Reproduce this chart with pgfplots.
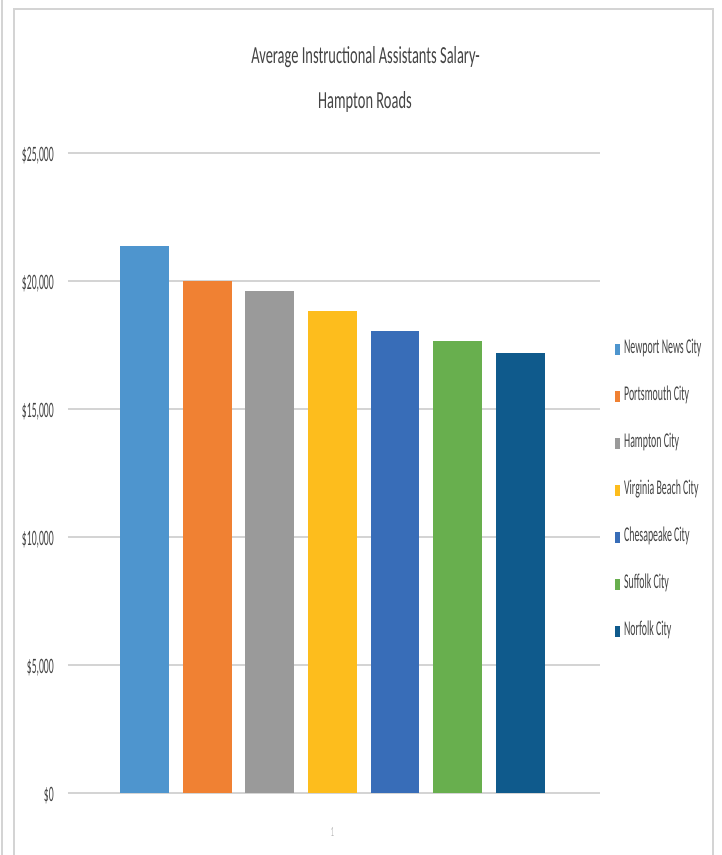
\documentclass[border=0pt]{standalone}
\usepackage{fontspec}
\setmainfont{Carlito}[FakeStretch=0.59]
\newfontfamily\tickfont{Carlito}[FakeStretch=0.44]
\newfontfamily\legfont{Carlito}[FakeStretch=0.47]
\usepackage{pgfplots}
\pgfplotsset{compat=1.18}
\definecolor{c1}{HTML}{4E95CE}
\definecolor{c2}{HTML}{F08133}
\definecolor{c3}{HTML}{9A9A9A}
\definecolor{c4}{HTML}{FDBD1D}
\definecolor{c5}{HTML}{386DB8}
\definecolor{c6}{HTML}{68AF4E}
\definecolor{c7}{HTML}{0F5A8C}
\definecolor{txt}{HTML}{444444}
\definecolor{gridc}{HTML}{D4D4D4}
\begin{document}
\begin{tikzpicture}[x=1pt,y=1pt]
\fill[white] (0,0) rectangle (721,855);
\draw[gridc, line width=1.2pt] (14,-5) -- (14,846) -- (713,846) -- (713,-5);
\draw[gridc, line width=1.2pt] (2,-5) -- (2,860);
\node[anchor=base, text=txt, inner sep=0pt, font=\fontsize{24.5}{29}\selectfont] at (365.5,791) {Average Instructional Assistants Salary-};
\node[anchor=base, text=txt, inner sep=0pt, font=\fontsize{24.5}{29}\selectfont] at (365,746) {Hampton Roads};
\begin{axis}[
  at={(68pt,62pt)}, anchor=south west,
  scale only axis, width=532pt, height=640pt,
  xmin=-1.224, xmax=7.275, ymin=0, ymax=25000,
  ybar, bar shift=0pt, bar width=0.78,
  axis line style={draw=none},
  tick style={draw=none},
  scaled y ticks=false,
  ymajorgrids, grid style={gridc, line width=2.2pt},
  ytick={0,5000,10000,15000,20000,25000},
  yticklabels={{\$0},{\$5,000},{\$10,000},{\$15,000},{\$20,000},{\$25,000}},
  yticklabel style={anchor=east, inner sep=0pt, xshift=-14pt, yshift=-3pt, text=txt, font=\tickfont\fontsize{22}{26}\selectfont},
  xtick={3}, xticklabels={1},
  xticklabel style={anchor=north, inner sep=0pt, yshift=-30pt, text=gray!55, font=\tickfont\fontsize{14}{16}\selectfont},
  legend image code/.code={\fill[#1] (0pt,-5.5pt) rectangle (5pt,5.5pt);},
  legend style={at={(1.028,0.472)}, anchor=west, draw=none, fill=none,
    inner sep=0pt, row sep=34pt,
    nodes={inner sep=0pt, text height=10pt, text depth=3pt, text=txt, font=\legfont\fontsize{21}{24}\selectfont},
    /tikz/every odd column/.append style={column sep=4pt}},
  legend cell align=left,
]
\addplot[fill=c1, draw=none] coordinates {(0,21370)};
\addplot[fill=c2, draw=none] coordinates {(1,19990)};
\addplot[fill=c3, draw=none] coordinates {(2,19610)};
\addplot[fill=c4, draw=none] coordinates {(3,18840)};
\addplot[fill=c5, draw=none] coordinates {(4,18040)};
\addplot[fill=c6, draw=none] coordinates {(5,17650)};
\addplot[fill=c7, draw=none] coordinates {(6,17170)};
\legend{Newport News City, Portsmouth City, Hampton City, Virginia Beach City, Chesapeake City, Suffolk City, Norfolk City}
\end{axis}
\pgfresetboundingbox
\path[use as bounding box] (0,0) rectangle (721,855);
\end{tikzpicture}
\end{document}
